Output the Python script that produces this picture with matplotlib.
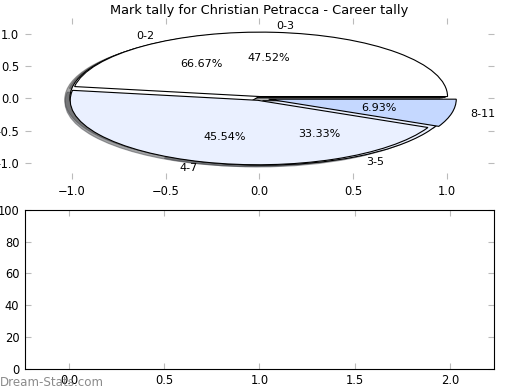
import matplotlib
matplotlib.use('Agg')
import matplotlib.pyplot as plt

# career tally, grouped in 4s
labels1 = ['0-3', '4-7', '8-11']
counts1 = [48, 46, 7]
colors1 = ['#FFFFFF', '#EAF0FF', '#C5D8FF']

# grouped in 3s
labels2 = ['0-2', '3-5']
counts2 = [2, 1]
colors2 = ['#FFFFFF', '#EAF0FF']

title = 'Mark tally for Christian Petracca - Career tally'

fig = plt.figure(figsize=(5.2, 3.9), dpi=100)
ax1 = fig.add_axes([0.048, 0.541, 0.902, 0.413])
ax2 = fig.add_axes([0.048, 0.054, 0.902, 0.408])

ax1.pie(counts2, labels=labels2, colors=colors2, autopct='%1.2f%%',
        shadow=True, explode=(0.02, 0.04), textprops={'fontsize': 8},
        wedgeprops={'linewidth': 0.8, 'edgecolor': 'black'})
ax1.pie(counts1, labels=labels1, colors=colors1, autopct='%1.2f%%',
        shadow=True, explode=(0.03, 0.03, 0.05), textprops={'fontsize': 8},
        wedgeprops={'linewidth': 0.8, 'edgecolor': 'black'})
ax1.set_aspect('auto')
ax1.set_frame_on(False)
ax1.set_xlim(-1.25, 1.25)
ax1.set_ylim(-1.25, 1.25)
ax1.set_xticks([-1.0, -0.5, 0.0, 0.5, 1.0])
ax1.set_yticks([-1.0, -0.5, 0.0, 0.5, 1.0])
ax1.set_title(title, fontsize=9.4, pad=3)

ax2.set_xlim(-0.232, 2.232)
ax2.set_ylim(0, 100)
ax2.set_xticks([0.0, 0.5, 1.0, 1.5, 2.0])
ax2.set_yticks([0, 20, 40, 60, 80, 100])

for ax in (ax1, ax2):
    ax.tick_params(direction='in', length=4, color='#BBBBBB', labelsize=8.3,
                   top=True, right=True, pad=4)

fig.text(0.0, 0.01, 'Dream-Stats.com', fontsize=8.6, color='#777777', alpha=0.85)

fig.savefig('out.png', dpi=100)
